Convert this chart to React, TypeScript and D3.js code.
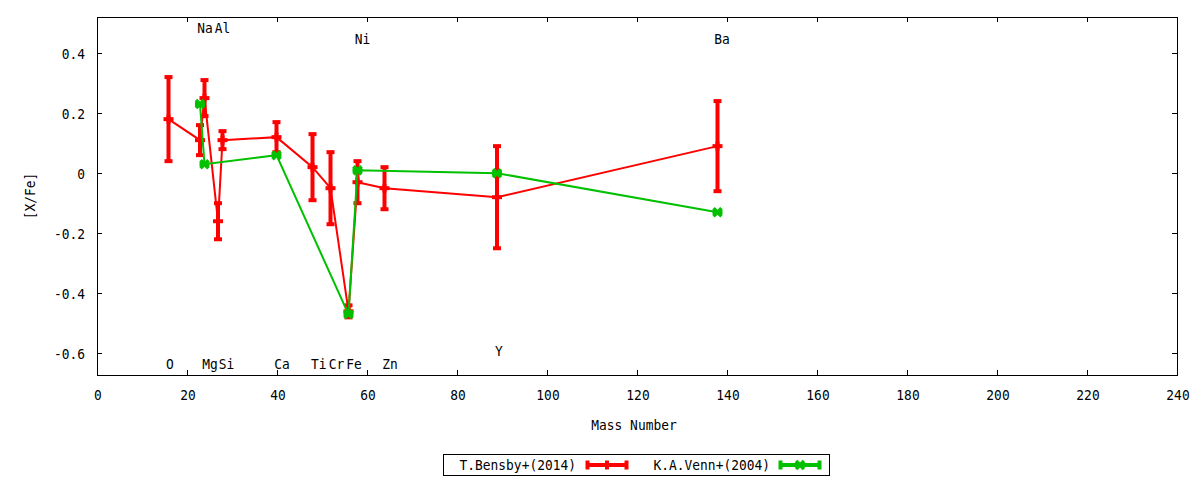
import React from "react";
import * as d3 from "d3";

// ---- data ----
const bensbyMass = [16, 23, 24, 27, 28, 40, 48, 52, 56, 58, 64, 89, 138];
const bensbyVal = [0.18, 0.11, 0.25, -0.16, 0.11, 0.12, 0.02, -0.05, -0.46, -0.03, -0.05, -0.08, 0.09];
const bensbyErr = [0.14, 0.05, 0.06, 0.06, 0.03, 0.05, 0.11, 0.12, 0.02, 0.07, 0.07, 0.17, 0.15];

const vennMass = [23, 24, 40, 56, 58, 89, 138];
const vennVal = [0.23, 0.03, 0.06, -0.47, 0.01, 0.0, -0.13];

const elemNames = ["Na", "Al", "Ni", "Ba", "O", "Mg", "Si", "Ca", "Ti", "Cr", "Fe", "Zn", "Y"];
const elemX = [24, 27.9, 59, 138.9, 16.2, 25.1, 28.8, 41.1, 49.3, 53.2, 57.1, 65.1, 89.3];
const elemY = [0.485, 0.485, 0.45, 0.45, -0.633, -0.633, -0.633, -0.633, -0.633, -0.633, -0.633, -0.633, -0.59];

const xTicks = [0, 20, 40, 60, 80, 100, 120, 140, 160, 180, 200, 220, 240];
const yTicks = [-0.6, -0.4, -0.2, 0, 0.2, 0.4];

const seriesNames = ["T.Bensby+(2014)", "K.A.Venn+(2004)"];

// ---- layout ----
const W = 1200, H = 480;
const L = 97, R = 1177, T = 17, B = 375;
const RED = "#ff0000";
const GREEN = "#00c000";
const FONT = "DejaVu Sans Mono";

function Txt({ x, y, anchor = "start", rotate = 0, children }: any) {
  return (
    <text
      transform={`translate(${x},${y})${rotate ? ` rotate(${rotate})` : ""} scale(0.89,1)`}
      textAnchor={anchor}
      fontFamily={FONT}
      fontSize={14.5}
      fill="#000"
    >
      {children}
    </text>
  );
}

function Plus({ cx, cy, color }: any) {
  return (
    <g stroke={color} strokeWidth={4}>
      <line x1={cx - 5} x2={cx + 5} y1={cy} y2={cy} />
      <line x1={cx} x2={cx} y1={cy - 4.5} y2={cy + 4.5} />
    </g>
  );
}

function Cross({ cx, cy, color }: any) {
  return (
    <g stroke={color} strokeWidth={3.6}>
      <line x1={cx - 4} x2={cx + 4} y1={cy - 4} y2={cy + 4} />
      <line x1={cx - 4} x2={cx + 4} y1={cy + 4} y2={cy - 4} />
      <line x1={cx - 5} x2={cx + 5} y1={cy} y2={cy} strokeWidth={4} />
    </g>
  );
}

export default function App() {
  const x = d3.scaleLinear().domain([0, 240]).range([L, R]);
  const y = d3.scaleLinear().domain([-0.672, 0.52]).range([B, T]);

  const redPts = bensbyMass.map((m, i) => [x(m) - 0.5, y(bensbyVal[i])] as [number, number]);
  const greenPts = vennMass.map((m, i) => [x(m) - 0.5, y(vennVal[i])] as [number, number]);
  const line = d3.line();

  return (
    <svg
      width={W}
      height={H}
      style={{ position: "absolute", left: 0, top: 0, background: "#fff" }}
    >
      <rect x={0} y={0} width={W} height={H} fill="#fff" />

      {/* ticks */}
      <g stroke="#000" strokeWidth={1} shapeRendering="crispEdges">
        {xTicks.map((t) => (
          <g key={"xt" + t}>
            <line x1={Math.round(x(t)) + 0.5} x2={Math.round(x(t)) + 0.5} y1={B} y2={B - 5} />
            <line x1={Math.round(x(t)) + 0.5} x2={Math.round(x(t)) + 0.5} y1={T} y2={T + 5} />
          </g>
        ))}
        {yTicks.map((t) => (
          <g key={"yt" + t}>
            <line x1={L} x2={L + 5} y1={Math.round(y(t)) + 0.5} y2={Math.round(y(t)) + 0.5} />
            <line x1={R} x2={R - 5} y1={Math.round(y(t)) + 0.5} y2={Math.round(y(t)) + 0.5} />
          </g>
        ))}
      </g>

      {/* tick labels */}
      {xTicks.map((t) => (
        <Txt key={"xl" + t} x={x(t) + 1} y={400} anchor="middle">
          {String(t)}
        </Txt>
      ))}
      {yTicks.map((t) => (
        <Txt key={"yl" + t} x={85} y={y(t) + 5.5} anchor="end">
          {t === 0 ? "0" : String(t)}
        </Txt>
      ))}

      {/* axis titles */}
      <Txt x={634} y={430} anchor="middle">Mass Number</Txt>
      <Txt x={35} y={196} anchor="middle" rotate={-90}>[X/Fe]</Txt>

      {/* element labels */}
      {elemNames.map((n, i) => (
        <Txt key={"el" + n} x={x(elemX[i])} y={y(elemY[i]) + 5.5} anchor="middle">
          {n}
        </Txt>
      ))}

      {/* Bensby series */}
      <path d={line(redPts) || ""} fill="none" stroke={RED} strokeWidth={2} />
      {bensbyMass.map((m, i) => {
        const cx = x(m) - 0.5;
        const y1 = y(bensbyVal[i] + bensbyErr[i]);
        const y2 = y(bensbyVal[i] - bensbyErr[i]);
        return (
          <g key={"rb" + i} stroke={RED} strokeWidth={4}>
            <line x1={cx} x2={cx} y1={y1} y2={y2} />
            <line x1={cx - 4} x2={cx + 4} y1={y1} y2={y1} />
            <line x1={cx - 4} x2={cx + 4} y1={y2} y2={y2} />
          </g>
        );
      })}
      {redPts.map((p, i) => (
        <Plus key={"rp" + i} cx={p[0]} cy={p[1]} color={RED} />
      ))}

      {/* Venn series */}
      <path d={line(greenPts) || ""} fill="none" stroke={GREEN} strokeWidth={2} />
      {greenPts.map((p, i) => (
        <Cross key={"gp" + i} cx={p[0]} cy={p[1]} color={GREEN} />
      ))}

      {/* frame */}
      <rect
        x={L + 0.5}
        y={T + 0.5}
        width={R - L}
        height={B - T}
        fill="none"
        stroke="#000"
        strokeWidth={1}
        shapeRendering="crispEdges"
      />

      {/* legend */}
      <rect x={443.5} y={454.5} width={386} height={21} fill="none" stroke="#000" strokeWidth={1} shapeRendering="crispEdges" />
      <Txt x={576} y={470} anchor="end">{seriesNames[0]}</Txt>
      <g stroke={RED} strokeWidth={4}>
        <line x1={586} x2={628} y1={465} y2={465} />
        <line x1={587.5} x2={587.5} y1={460.5} y2={469.5} />
        <line x1={626.5} x2={626.5} y1={460.5} y2={469.5} />
      </g>
      <Plus cx={607} cy={465} color={RED} />
      <Txt x={770} y={470} anchor="end">{seriesNames[1]}</Txt>
      <g stroke={GREEN} strokeWidth={4}>
        <line x1={779} x2={821} y1={465} y2={465} />
        <line x1={780.5} x2={780.5} y1={460.5} y2={469.5} />
        <line x1={819.5} x2={819.5} y1={460.5} y2={469.5} />
      </g>
      <Cross cx={800} cy={465} color={GREEN} />
    </svg>
  );
}
